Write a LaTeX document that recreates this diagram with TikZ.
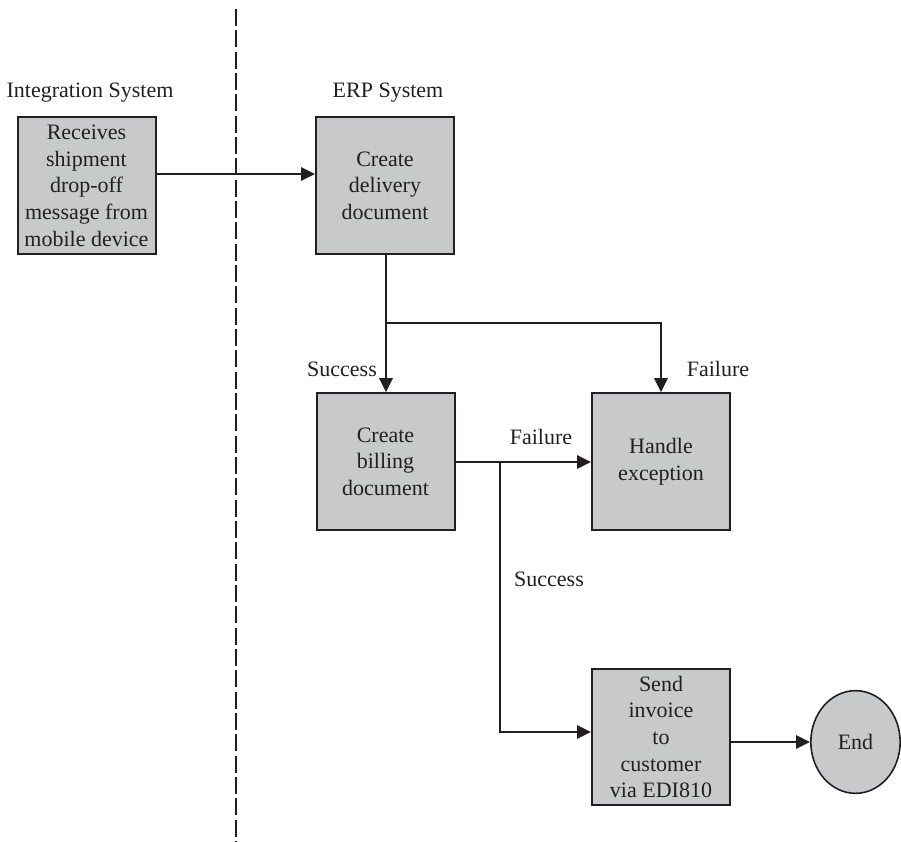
\documentclass[tikz,border=0pt]{standalone}
\usepackage{fontspec}
\setmainfont{Liberation Serif}
\usetikzlibrary{arrows.meta,shapes.geometric}
\definecolor{ink}{HTML}{231F20}
\definecolor{boxfill}{HTML}{C8C9CB}
\begin{document}
\begin{tikzpicture}[x=0.75pt,y=-0.75pt,
  font=\fontsize{16.5}{20}\selectfont, text=ink,
  procbox/.style={draw=ink, line width=1.5pt, fill=boxfill, align=center,
    minimum width=103.5pt, minimum height=102.5pt, inner sep=0pt},
  endnode/.style={ellipse, draw=ink, line width=1.2pt, fill=boxfill,
    minimum width=67pt, minimum height=77pt, inner sep=0pt},
  arr/.style={draw=ink, line width=1.5pt, -{Triangle[length=10.5pt,width=10pt]}},
  link/.style={draw=ink, line width=1.5pt},
  lbl/.style={inner sep=0pt}]
\useasboundingbox (0,0) rectangle (901,842);

% swimlane divider
\draw[draw=ink, line width=1.6pt, dash pattern=on 12.75pt off 3.25pt] (236,9) -- (236,842);

% lane titles
\node[lbl] (lint) at (90,93) {Integration System};
\node[lbl] (lerp) at (388,93) {ERP System};

% process steps
\node[procbox] (recv) at (86.5,185.5) {Receives\\shipment\\drop-off\\message from\\mobile device};
\node[procbox] (deliv) at (385,185.5) {Create\\delivery\\document};
\node[procbox] (bill) at (385.5,461.5) {Create\\billing\\document};
\node[procbox] (exc) at (661,461.5) {Handle\\exception};
\node[procbox] (inv) at (661,737) {Send\\invoice\\to\\customer\\via EDI810};
\node[endnode] (end) at (855.5,742) {End};

% branch points
\coordinate (j1) at (386,323);
\coordinate (j2) at (500,462);

% connectors
\draw[arr] ([yshift=8.6pt]recv.east) -- ([yshift=8.6pt]deliv.west);
\draw[link] (deliv.south -| j1) -- (j1);
\draw[arr] (j1) -- (bill.north -| j1);
\draw[arr] (j1) -| (exc.north);
\draw[arr] (bill.east |- j2) -- (exc.west |- j2);
\draw[arr] (j2) |- ([yshift=3.75pt]inv.west);
\draw[arr] (inv.east |- end.west) -- (end.west);

% branch labels
\node[lbl] (s1) at (342,369) {Success};
\node[lbl] (f1) at (718,369) {Failure};
\node[lbl] (f2) at (541,437) {Failure};
\node[lbl] (s2) at (549,579) {Success};
\end{tikzpicture}
\end{document}
